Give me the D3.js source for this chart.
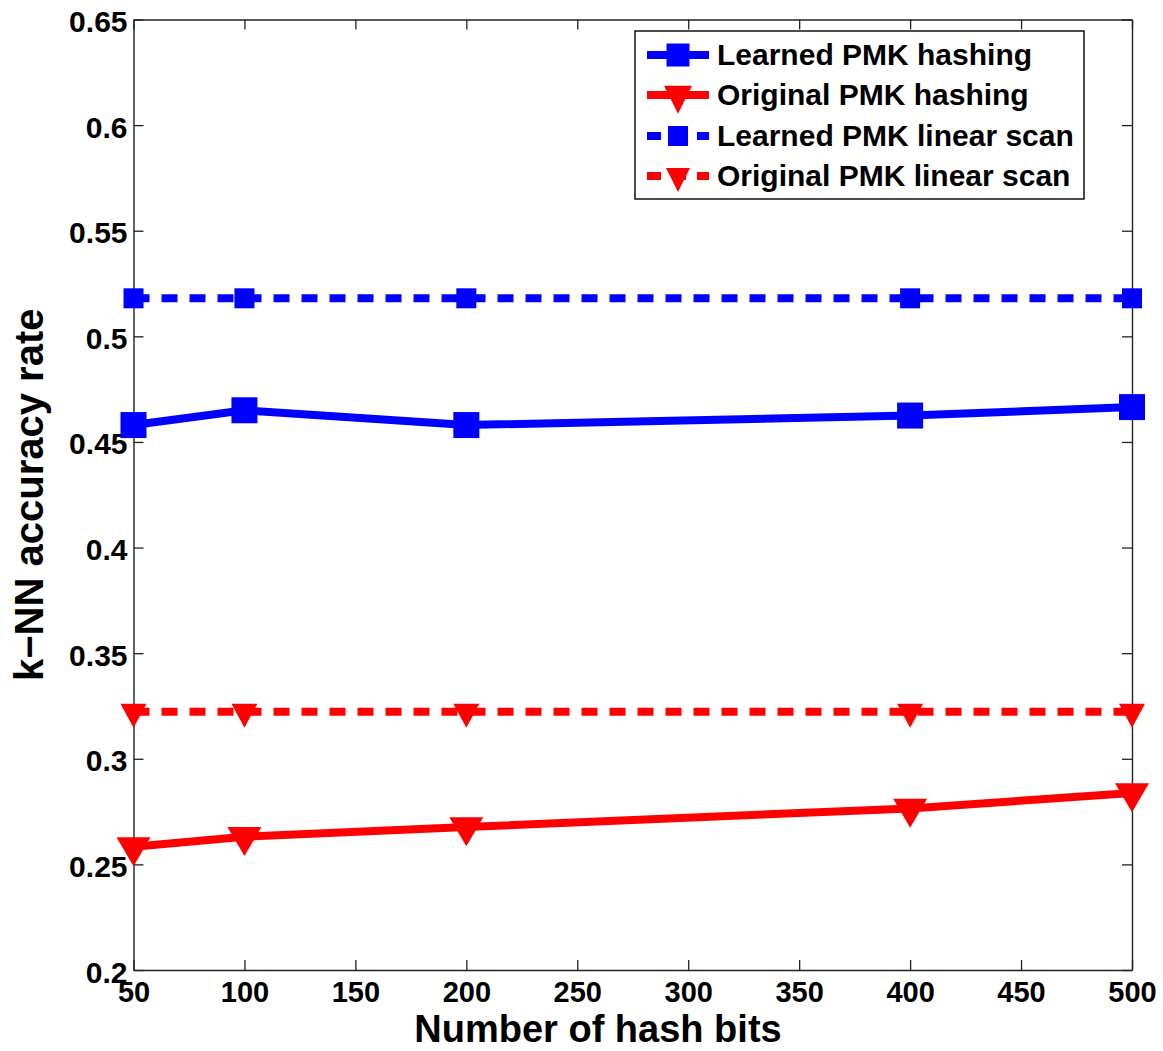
<!DOCTYPE html>
<html>
<head>
<meta charset="utf-8">
<script src="https://cdn.jsdelivr.net/npm/d3@7"></script>
<style>
  html, body { margin: 0; padding: 0; background: #fff; }
  svg { display: block; }
  text { font-family: "Liberation Sans", Arial, Helvetica, sans-serif; font-weight: bold; fill: #000; }
</style>
</head>
<body>
<script>
// Hash bit counts on the x axis
const hashBits = [50, 100, 200, 400, 500];

// k-NN accuracy for each method
const learnedHashing  = [0.458, 0.465, 0.458, 0.4625, 0.4665];
const originalHashing = [0.2583, 0.2631, 0.2677, 0.2765, 0.2838];
const learnedLinear   = [0.518, 0.518, 0.518, 0.518, 0.518];
const originalLinear  = [0.3223, 0.3223, 0.3223, 0.3223, 0.3223];

const seriesNames = ["Learned PMK hashing", "Original PMK hashing", "Learned PMK linear scan", "Original PMK linear scan"];

const xTicks = [50, 100, 150, 200, 250, 300, 350, 400, 450, 500];
const yTicks = [0.2, 0.25, 0.3, 0.35, 0.4, 0.45, 0.5, 0.55, 0.6, 0.65];

const W = 1163, H = 1051;
const plot = { left: 133.5, right: 1132, top: 19.5, bottom: 970 };

const svg = d3.select("body").append("svg").attr("width", W).attr("height", H);

const x = d3.scaleLinear().domain([50, 500]).range([plot.left, plot.right]);
const y = d3.scaleLinear().domain([0.2, 0.65]).range([plot.bottom, plot.top]);

const axisColor = "#222";
const tickLen = 10;

// Axes with inward ticks, mirrored on top and right
const fmtY = d => String(+d.toFixed(2));
const xAxisB = d3.axisBottom(x).tickValues(xTicks).tickSizeInner(-tickLen).tickSizeOuter(0).tickFormat(d3.format("d"));
const xAxisT = d3.axisTop(x).tickValues(xTicks).tickSizeInner(-tickLen).tickSizeOuter(0).tickFormat("");
const yAxisL = d3.axisLeft(y).tickValues(yTicks).tickSizeInner(-tickLen).tickSizeOuter(0).tickFormat(fmtY);
const yAxisR = d3.axisRight(y).tickValues(yTicks).tickSizeInner(-tickLen).tickSizeOuter(0).tickFormat("");

function styleAxis(g, size) {
  g.select(".domain").attr("stroke", axisColor).attr("stroke-width", 1.4);
  g.selectAll(".tick line").attr("stroke", axisColor).attr("stroke-width", 1.3);
  g.selectAll(".tick text").attr("font-size", size || 30).attr("font-family", "Liberation Sans, Arial, sans-serif").attr("font-weight", "bold").attr("fill", "#000");
}

svg.append("g").attr("transform", `translate(0,${plot.bottom})`).call(xAxisB).call(g => styleAxis(g, 29))
  .selectAll(".tick text").attr("dy", "0.71em").attr("y", 11);
svg.append("g").attr("transform", `translate(0,${plot.top})`).call(xAxisT).call(styleAxis);
svg.append("g").attr("transform", `translate(${plot.left},0)`).call(yAxisL).call(styleAxis)
  .selectAll(".tick text").attr("dy", "0.4em").attr("x", -6);
svg.append("g").attr("transform", `translate(${plot.right},0)`).call(yAxisR).call(styleAxis);

// Axis titles
svg.append("text")
  .attr("x", 598).attr("y", 1042)
  .attr("text-anchor", "middle").attr("font-size", 38)
  .text("Number of hash bits");

svg.append("text")
  .attr("transform", `translate(43,${(plot.top + plot.bottom) / 2}) rotate(-90)`)
  .attr("text-anchor", "middle").attr("font-size", 40)
  .text("k\u2212NN accuracy rate");

// Marker painters
function square(g, cx, cy, s, color) {
  g.append("rect").attr("x", cx - s / 2).attr("y", cy - s / 2).attr("width", s).attr("height", s).attr("fill", color);
}
function triDown(g, cx, cy, w, h, color) {
  const top = cy - h / 3, apex = cy + 2 * h / 3;
  g.append("path").attr("d", `M${cx - w / 2},${top}L${cx + w / 2},${top}L${cx},${apex}Z`).attr("fill", color);
}

const series = [
  { name: seriesNames[0], values: learnedHashing,  color: "#0000ff", dash: null,    marker: "square", size: 26 },
  { name: seriesNames[1], values: originalHashing, color: "#ff0000", dash: null,    marker: "tri",    w: 34, h: 29 },
  { name: seriesNames[2], values: learnedLinear,   color: "#0000ff", dash: "16,12", marker: "square", size: 20 },
  { name: seriesNames[3], values: originalLinear,  color: "#ff0000", dash: "16,12", marker: "tri",    w: 26, h: 24 }
];

const line = d3.line().x(d => x(d[0])).y(d => y(d[1]));

series.forEach(s => {
  const g = svg.append("g");
  const pts = hashBits.map((b, i) => [b, s.values[i]]);
  g.append("path").attr("d", line(pts)).attr("fill", "none")
    .attr("stroke", s.color).attr("stroke-width", 8)
    .attr("stroke-dasharray", s.dash);
  pts.forEach(p => {
    if (s.marker === "square") square(g, x(p[0]), y(p[1]), s.size, s.color);
    else triDown(g, x(p[0]), y(p[1]), s.w, s.h, s.color);
  });
});

// Legend
const lg = svg.append("g");
lg.append("rect").attr("x", 635).attr("y", 31).attr("width", 449).attr("height", 168)
  .attr("fill", "#fff").attr("stroke", "#000").attr("stroke-width", 1.4);
const rowY = [55, 95, 136, 176];
series.forEach((s, i) => {
  const cy = rowY[i];
  const g = lg.append("g");
  g.append("line").attr("x1", 647).attr("x2", 709).attr("y1", cy).attr("y2", cy)
    .attr("stroke", s.color).attr("stroke-width", 8)
    .attr("stroke-dasharray", s.dash ? "14,11" : null);
  if (s.marker === "square") square(g, 678, cy, s.dash ? 20 : 23, s.color);
  else triDown(g, 678, cy, s.dash ? 24 : 28, s.dash ? 24 : 28, s.color);
  g.append("text").attr("x", 717).attr("y", cy + 10).attr("font-size", 30).text(s.name);
});
</script>
</body>
</html>
